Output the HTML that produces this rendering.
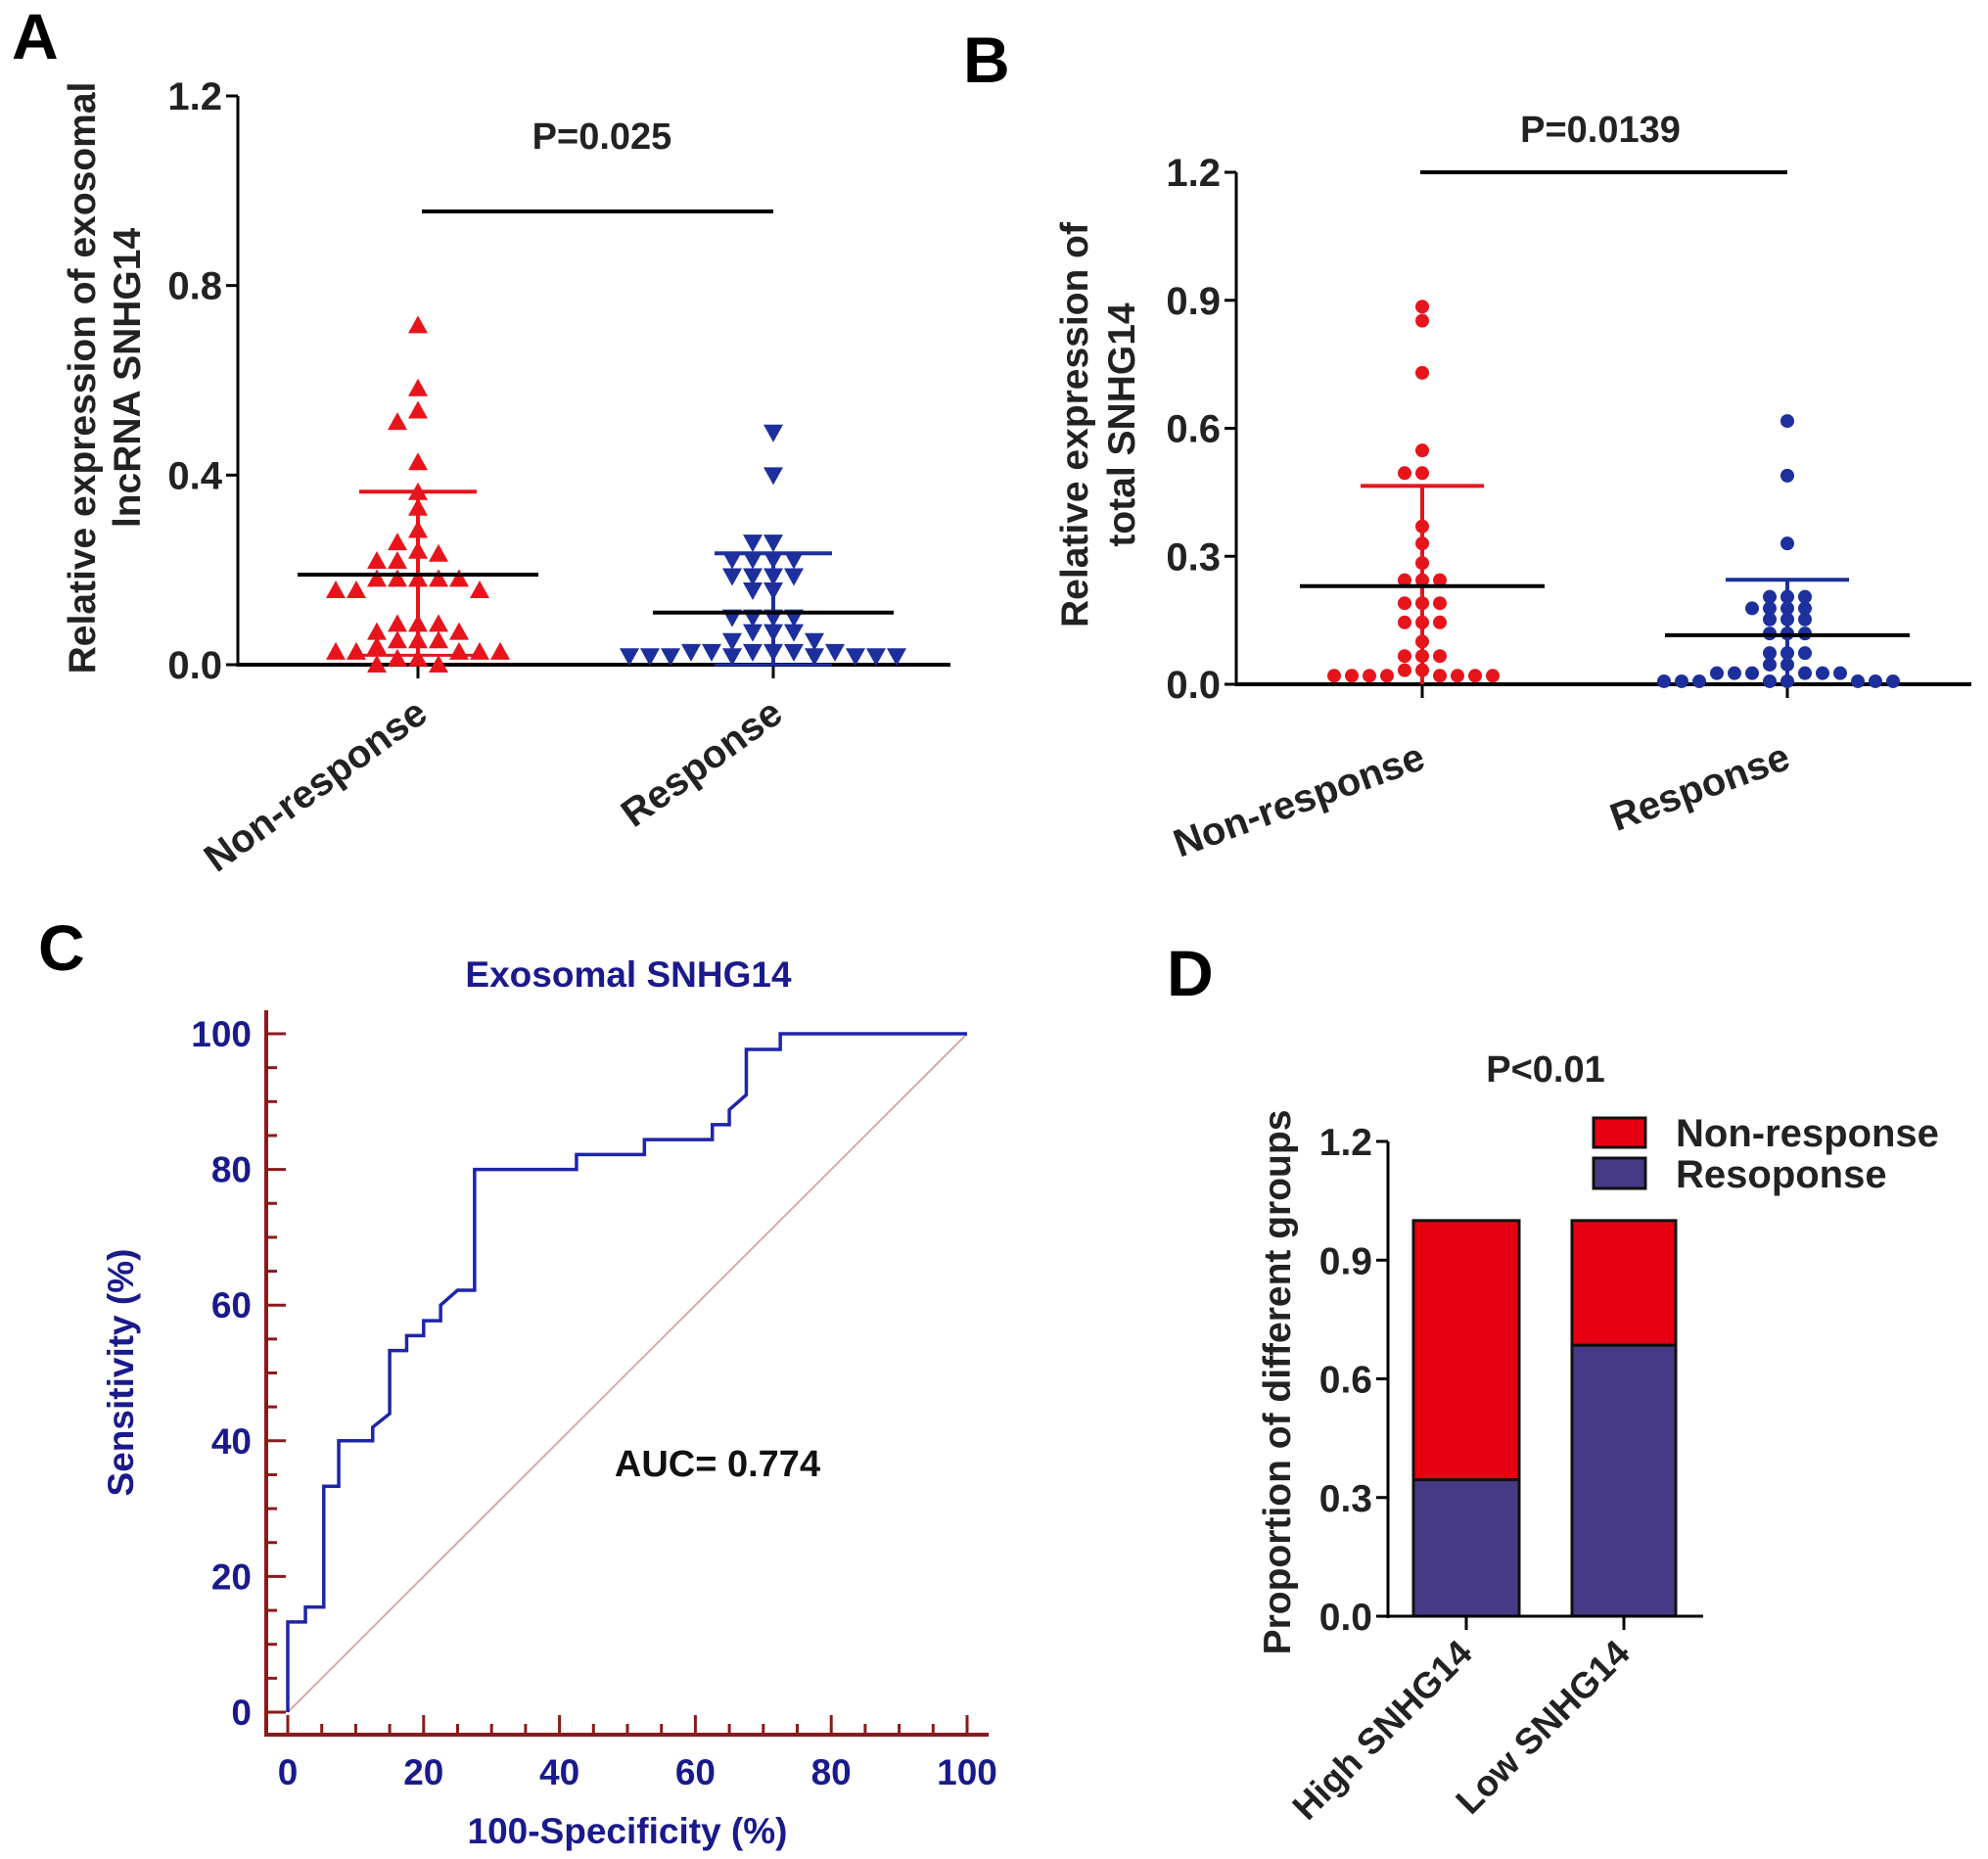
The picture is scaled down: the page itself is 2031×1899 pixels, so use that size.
<!DOCTYPE html>
<html><head><meta charset="utf-8"><style>
html,body{margin:0;padding:0;background:#fff;}
svg{display:block;font-family:"Liberation Sans",Arial,sans-serif;font-weight:bold;}
</style></head><body>
<svg id="fig" width="2031" height="1899" viewBox="0 0 2031 1899" xmlns="http://www.w3.org/2000/svg">
<g id="root"></g>
</svg>
<script>
// ---------- data ----------
const aCategories = ["Non-response","Response"];
const aNonResp = [0.716,0.583,0.536,0.512,0.427,0.364,0.331,0.284,0.258,0.24,0.234,0.219,0.219,0.181,0.181,0.181,0.181,0.181,0.157,0.157,0.157,0.086,0.086,0.086,0.069,0.069,0.051,0.051,0.051,0.039,0.027,0.027,0.027,0.027,0.027,0.013,0.013,0.0,0.0];
const aResp = [0.49,0.40,0.258,0.258,0.222,0.222,0.222,0.222,0.187,0.187,0.187,0.187,0.157,0.157,0.1,0.1,0.1,0.1,0.069,0.069,0.069,0.05,0.05,0.027,0.027,0.027,0.027,0.027,0.027,0.018,0.018,0.018,0.018,0.018,0.018,0.018,0.018];
const aMean = [0.19,0.11];
const aSD = [0.175,0.125];
const aTicks = [0,0.4,0.8,1.2];
const aTickLabels = ["0.0","0.4","0.8","1.2"];

const bCategories = ["Non-response","Response"];
const bNonResp = [0.885,0.852,0.73,0.548,0.495,0.495,0.37,0.33,0.284,0.244,0.244,0.244,0.19,0.19,0.19,0.145,0.145,0.145,0.1,0.066,0.066,0.066,0.033,0.033,0.02,0.02,0.02,0.02,0.02,0.02,0.02,0.02];
const bResp = [0.617,0.489,0.33,0.205,0.205,0.205,0.178,0.178,0.178,0.178,0.152,0.152,0.152,0.119,0.119,0.119,0.073,0.073,0.073,0.046,0.046,0.026,0.026,0.026,0.026,0.026,0.026,0.007,0.007,0.007,0.007,0.007,0.007,0.007,0.007];
const bMean = [0.23,0.115];
const bSD = [0.235,0.13];
const bTicks = [0,0.3,0.6,0.9,1.2];
const bTickLabels = ["0.0","0.3","0.6","0.9","1.2"];

const rocX = [0,0,2.6,2.6,5.3,5.3,7.5,7.5,12.5,12.5,15,15,17.5,17.5,20,20,22.5,22.5,25,27.5,27.5,42.5,42.5,52.5,52.5,62.5,62.5,65,65,67.5,67.5,72.5,72.5,100];
const rocY = [0,13.3,13.3,15.5,15.5,33.3,33.3,40,40,42,44,53.3,53.3,55.5,55.5,57.7,57.7,60,62.2,62.2,80,80,82.2,82.2,84.4,84.4,86.6,86.6,88.8,91,97.7,97.7,100,100];
const rocTicks = [0,20,40,60,80,100];

const dCategories = ["High SNHG14","Low SNHG14"];
const dResponse = [0.345,0.685];
const dNonResponse = [0.655,0.315];
const dTicks = [0,0.3,0.6,0.9,1.2];
const dTickLabels = ["0.0","0.3","0.6","0.9","1.2"];

// ---------- helpers ----------
const NS="http://www.w3.org/2000/svg";
const root=document.getElementById('root');
function mk(tag,attrs,parent,txt){const e=document.createElementNS(NS,tag);for(const k in attrs)e.setAttribute(k,attrs[k]);if(txt!==undefined)e.textContent=txt;(parent||root).appendChild(e);return e;}
function line(x1,y1,x2,y2,stroke,w,name,p){const e=mk('line',{x1,y1,x2,y2,stroke,'stroke-width':w},p);


return e;}
function text(x,y,s,size,fill,anchor,name,p,extra){const e=mk('text',Object.assign({x,y,'font-size':size,fill,'text-anchor':anchor},extra||{}),p,s);


return e;}
function swarm(vals,cx,yf,d){const placed=[];const out=[];
 vals.forEach(v=>{const y=yf(v);let x=cx;
  for(let i=0;i<40;i++){const off=(i===0?0:(Math.ceil(i/2)*(i%2?-1:1)))*d;x=cx+off;
   if(!placed.some(p=>Math.abs(p[0]-x)<d*0.95&&Math.abs(p[1]-y)<d*0.6))break;}
  placed.push([x,y]);out.push([x,y]);});return out;}

// ---------- Panel A ----------
(function(){
 const g=mk('g',{});
 
 
 const x0=243,x1=971,y0=679,ytop=98,vmax=1.2;
 const Y=v=>y0-(v/vmax)*(y0-ytop);
 const gx=[427,790];
 text(12,60,"A",66,"#000","start","panel-a-label",g);
 line(x0,ytop,x0,y0+2,"#000",3,"a-y-axis",g);
 line(x0,y0,x1,y0,"#000",4,"a-x-axis",g);
 aTicks.forEach((t,i)=>{line(x0-12,Y(t),x0,Y(t),"#000",3,"a-y-tick",g);
  text(x0-16,Y(t)+14,aTickLabels[i],40,"#222","end","a-y-tick-label",g);});
 gx.forEach(x=>line(x,y0,x,y0+14,"#000",3,"a-x-tick",g));
 text(0,0,"Relative expression of exosomal",39,"#222","middle","a-y-axis-title",g,{transform:"translate(97,386) rotate(-90)"});
 text(0,0,"lncRNA SNHG14",39,"#222","middle","a-y-axis-title-line2",g,{transform:"translate(143,386) rotate(-90)"});
 aCategories.forEach((c,i)=>text(0,0,c,40,"#222","end","a-x-category-label",g,{transform:`translate(${gx[i]+12},${y0+55}) rotate(-36)`}));
 line(431,216,790,216,"#000",4,"a-significance-bar",g);
 text(615,152,"P=0.025",38,"#222","middle","a-p-value",g);
 const cols=["#e8141c","#1c2f9c"];
 [aNonResp,aResp].forEach((vals,gi)=>{
  swarm(vals,gx[gi],Y,21).forEach(p=>{const s=10;
   const pts=gi===0?`${p[0]},${p[1]-s} ${p[0]-s},${p[1]+s*0.8} ${p[0]+s},${p[1]+s*0.8}`:`${p[0]},${p[1]+s} ${p[0]-s},${p[1]-s*0.8} ${p[0]+s},${p[1]-s*0.8}`;
   const e=mk('polygon',{points:pts,fill:cols[gi]},g);
   
   });
  const cx=gx[gi];
  const lo=Math.max(0.02*(1-gi),aMean[gi]-aSD[gi]);
  line(cx,Y(lo),cx,Y(aMean[gi]+aSD[gi]),cols[gi],4,"a-error-bar",g);
  line(cx-60,Y(aMean[gi]+aSD[gi]),cx+60,Y(aMean[gi]+aSD[gi]),cols[gi],4,"a-error-cap",g);
  line(cx-60,Y(lo),cx+60,Y(lo),cols[gi],3,"a-error-cap-low",g);
  line(cx-123,Y(aMean[gi]),cx+123,Y(aMean[gi]),"#000",4,"a-mean-line",g);
 });
})();

// ---------- Panel B ----------
(function(){
 const g=mk('g',{});
 
 
 const x0=1263,x1=2014,y0=699,ytop=176,vmax=1.2;
 const Y=v=>y0-(v/vmax)*(y0-ytop);
 const gx=[1453,1826];
 text(984,84,"B",66,"#000","start","panel-b-label",g);
 line(x0,ytop,x0,y0+2,"#000",3,"b-y-axis",g);
 line(x0,y0,x1,y0,"#000",4,"b-x-axis",g);
 bTicks.forEach((t,i)=>{line(x0-12,Y(t),x0,Y(t),"#000",3,"b-y-tick",g);
  text(x0-16,Y(t)+14,bTickLabels[i],40,"#222","end","b-y-tick-label",g);});
 gx.forEach(x=>line(x,y0,x,y0+14,"#000",3,"b-x-tick",g));
 text(0,0,"Relative expression of",39,"#222","middle","b-y-axis-title",g,{transform:"translate(1111,434) rotate(-90)"});
 text(0,0,"total SNHG14",39,"#222","middle","b-y-axis-title-line2",g,{transform:"translate(1159,434) rotate(-90)"});
 bCategories.forEach((c,i)=>text(0,0,c,40,"#222","end","b-x-category-label",g,{transform:`translate(${gx[i]+5},${y0+85}) rotate(-20)`}));
 line(1451,176,1826,176,"#000",4,"b-significance-bar",g);
 text(1635,145,"P=0.0139",38,"#222","middle","b-p-value",g);
 const cols=["#e8141c","#1c2f9c"];
 [bNonResp,bResp].forEach((vals,gi)=>{
  swarm(vals,gx[gi],Y,18).forEach(p=>{const e=mk('circle',{cx:p[0],cy:p[1],r:7,fill:cols[gi]},g);
   
   });
  const cx=gx[gi];
  line(cx,Y(Math.max(0,bMean[gi]-bSD[gi])),cx,Y(bMean[gi]+bSD[gi]),cols[gi],4,"b-error-bar",g);
  line(cx-63,Y(bMean[gi]+bSD[gi]),cx+63,Y(bMean[gi]+bSD[gi]),cols[gi],4,"b-error-cap",g);
  line(cx-125,Y(bMean[gi]),cx+125,Y(bMean[gi]),"#000",4,"b-mean-line",g);
 });
})();

// ---------- Panel C ----------
(function(){
 const g=mk('g',{});
 
 
 const X=v=>294+v/100*(988-294), Y=v=>1749-v/100*(1749-1056);
 const ax="#8b1a1a", nv="#1a1a8c";
 text(39,991,"C",66,"#000","start","panel-c-label",g);
 text(642,1008,"Exosomal SNHG14",37,nv,"middle","c-chart-title",g);
 line(272,1032,272,1772,ax,4,"c-y-axis",g);
 line(270,1772,1010,1772,ax,4,"c-x-axis",g);
 for(let v=0;v<=100;v+=5){const maj=v%20===0;
  line(272,Y(v),272+(maj?20:11),Y(v),ax,3,maj?"c-y-major-tick":"c-y-minor-tick",g);
  line(X(v),1772,X(v),1772-(maj?20:11),ax,3,maj?"c-x-major-tick":"c-x-minor-tick",g);}
 rocTicks.forEach(t=>{text(257,Y(t)+13,String(t),37,nv,"end","c-y-tick-label",g);
  text(X(t),1823,String(t),37,nv,"middle","c-x-tick-label",g);});
 text(641,1883,"100-Specificity (%)",37,nv,"middle","c-x-axis-title",g);
 text(0,0,"Sensitivity (%)",37,nv,"middle","c-y-axis-title",g,{transform:"translate(136,1402) rotate(-90)"});
 line(X(0),Y(0),X(100),Y(100),"#d9a9a9",2,"c-reference-diagonal",g);
 const path=mk('polyline',{points:rocX.map((x,i)=>X(x)+","+Y(rocY[i])).join(" "),fill:"none",stroke:"#1f25a8","stroke-width":3.5},g);
 
 
 text(733,1508,"AUC= 0.774",38,"#111","middle","c-auc-label",g);
})();

// ---------- Panel D ----------
(function(){
 const g=mk('g',{});
 
 
 const x0=1418,y0=1651,ytop=1166,vmax=1.2;
 const Y=v=>y0-(v/vmax)*(y0-ytop);
 const bx=[[1444,1552],[1606,1712]];
 text(1192,1017,"D",66,"#000","start","panel-d-label",g);
 text(1579,1105,"P<0.01",38,"#222","middle","d-p-value",g);
 dCategories.forEach((c,i)=>{const [a,b]=bx[i];
  const r1=mk('rect',{x:a,y:Y(dResponse[i]),width:b-a,height:Y(0)-Y(dResponse[i]),fill:"#463a86",stroke:"#111","stroke-width":3},g);
  
  
  const r2=mk('rect',{x:a,y:Y(dResponse[i]+dNonResponse[i]),width:b-a,height:Y(dResponse[i])-Y(dResponse[i]+dNonResponse[i]),fill:"#e60012",stroke:"#111","stroke-width":3},g);
  
  
  const cx=(a+b)/2;
  line(cx,y0,cx,y0+14,"#000",3,"d-x-tick",g);
  text(0,0,c,37,"#222","end","d-x-category-label",g,{transform:`translate(${cx+8},${y0+40}) rotate(-45)`});
 });
 line(x0,ytop,x0,y0+2,"#000",3,"d-y-axis",g);
 line(x0,y0,1740,y0,"#000",3,"d-x-axis",g);
 dTicks.forEach((t,i)=>{line(x0-12,Y(t),x0,Y(t),"#000",3,"d-y-tick",g);
  text(x0-16,Y(t)+14,dTickLabels[i],39,"#222","end","d-y-tick-label",g);});
 text(0,0,"Proportion of different groups",39,"#222","middle","d-y-axis-title",g,{transform:"translate(1318,1412) rotate(-90)"});
 const l1=mk('rect',{x:1628,y:1142,width:53,height:30,fill:"#e60012",stroke:"#111","stroke-width":3},g);
 
 
 const l2=mk('rect',{x:1628,y:1183,width:53,height:31,fill:"#463a86",stroke:"#111","stroke-width":3},g);
 
 
 text(1712,1171,"Non-response",40,"#222","start","d-legend-label-nonresponse",g);
 text(1712,1213,"Resoponse",40,"#222","start","d-legend-label-response",g);
})();
</script>
</body></html>
